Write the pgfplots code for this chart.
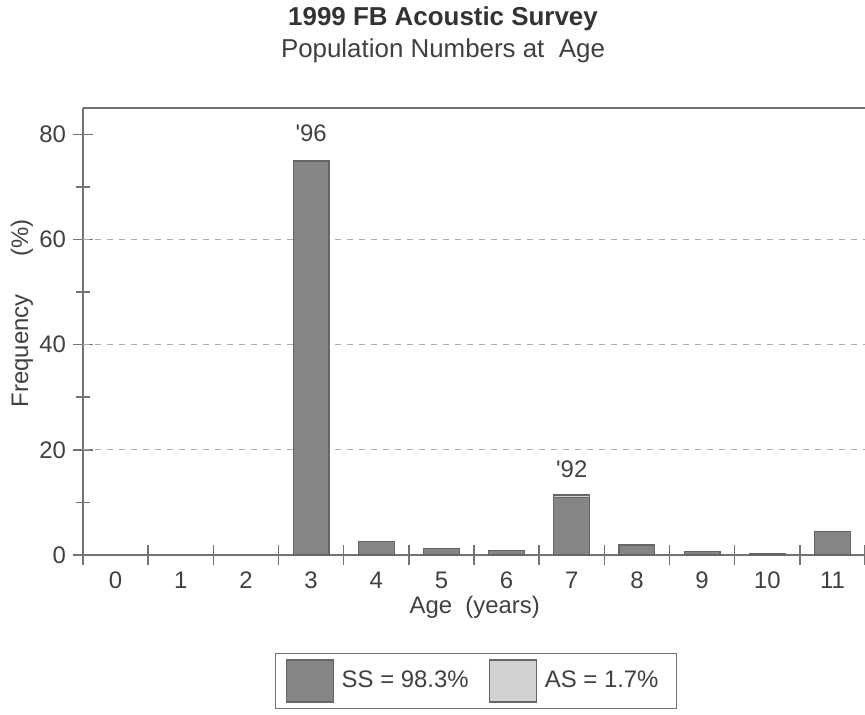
\documentclass[border=0pt]{standalone}
\usepackage{fontspec}
\setmainfont{Liberation Sans}
\usepackage{pgfplots}
\usepackage{pgfplotstable}
\pgfplotsset{compat=1.18}

\definecolor{ssfill}{gray}{0.52}
\definecolor{asfill}{gray}{0.82}
\definecolor{baredge}{gray}{0.40}
\definecolor{axisgray}{gray}{0.45}
\definecolor{gridgray}{gray}{0.68}
\definecolor{txt}{gray}{0.25}

% Frequency (%) of each age class, split into SS and AS
\pgfplotstableread{
age ss   as
0   0    0
1   0    0
2   0    0
3   74.8 0.2
4   2.6  0
5   1.3  0
6   0.8  0
7   10.9 0.5
8   1.9  0
9   0.6  0
10  0.3  0
11  4.4  0
}\agedata

\begin{document}
\begin{tikzpicture}
\useasboundingbox (-41.5bp,-80bp) rectangle (391bp,277.5bp);
\begin{axis}[
  at={(0,0)}, anchor=south west,
  scale only axis, width=391bp, height=223.5bp,
  xmin=-0.5, xmax=11.5, ymin=0, ymax=85,
  clip=false,
  axis x line*=bottom, axis y line*=left,
  axis line style={draw=axisgray, line width=0.8pt, -},
  ybar stacked, bar width=0.55,
  xtick={0,...,11},
  xtick style={draw=none},
  extra x ticks={-0.5,0.5,...,11.5},
  extra x tick labels={},
  extra x tick style={xtick style={draw=axisgray, line width=0.8pt}, grid=none},
  ytick={0,20,...,80},
  minor y tick num=1,
  ytick style={draw=axisgray, line width=0.8pt},
  extra y ticks={20,40,60},
  extra y tick labels={},
  extra y tick style={grid=major, ytick style={draw=none},
    major grid style={gridgray, line width=0.6pt, dash pattern=on 3bp off 3bp}},
  tick align=center,
  major tick length=10bp,
  minor tick length=7bp,
  /pgf/number format/assume math mode=true,
  ticklabel style={font=\fontsize{12}{14}\selectfont, text=txt},
  xlabel={Age\ \ (years)},
  ylabel={Frequency\hspace{19bp}(\%)},
  label style={font=\fontsize{12}{14}\selectfont, text=txt},
  xlabel style={at={(axis description cs:0.501,-0.1163)}, anchor=center},
  ylabel style={at={(axis description cs:-0.078,0.541)}, anchor=center, rotate=0},
  legend columns=2,
  legend image code/.code={\draw[#1] (0bp,-10.5bp) rectangle (23.5bp,10.5bp);},
  legend style={at={(0.5026,-0.2819)}, anchor=center,
    draw=black!55, line width=0.8pt, inner xsep=5bp, inner ysep=3bp,
    font=\fontsize{12}{14}\selectfont, text=txt,
    /tikz/every even column/.append style={column sep=6bp},
    nodes={inner xsep=4bp, inner ysep=0pt}},
]
\addplot[fill=ssfill, draw=baredge, line width=0.6pt] table[x=age, y=ss] {\agedata};
\addplot[fill=asfill, draw=baredge, line width=0.6pt] table[x=age, y=as] {\agedata};
\legend{SS = 98.3\%, AS = 1.7\%}
\draw[axisgray, line width=0.8pt] (rel axis cs:0,1) -- (rel axis cs:1,1);
\node[anchor=base, font=\fontsize{12}{14}\selectfont, text=txt]
  at ([yshift=9.5bp]axis cs:3,75) {\textquotesingle 96};
\node[anchor=base, font=\fontsize{12}{14}\selectfont, text=txt]
  at ([yshift=9bp]axis cs:7,11.4) {\textquotesingle 92};
\end{axis}
\node[anchor=base, font=\bfseries\fontsize{13}{15}\selectfont, text=black!80]
  at (180bp,264.5bp) {1999 FB Acoustic Survey};
\node[anchor=base, font=\fontsize{13}{15}\selectfont, text=txt]
  at (180bp,248.5bp) {Population Numbers at\ \ Age};
\end{tikzpicture}
\end{document}
